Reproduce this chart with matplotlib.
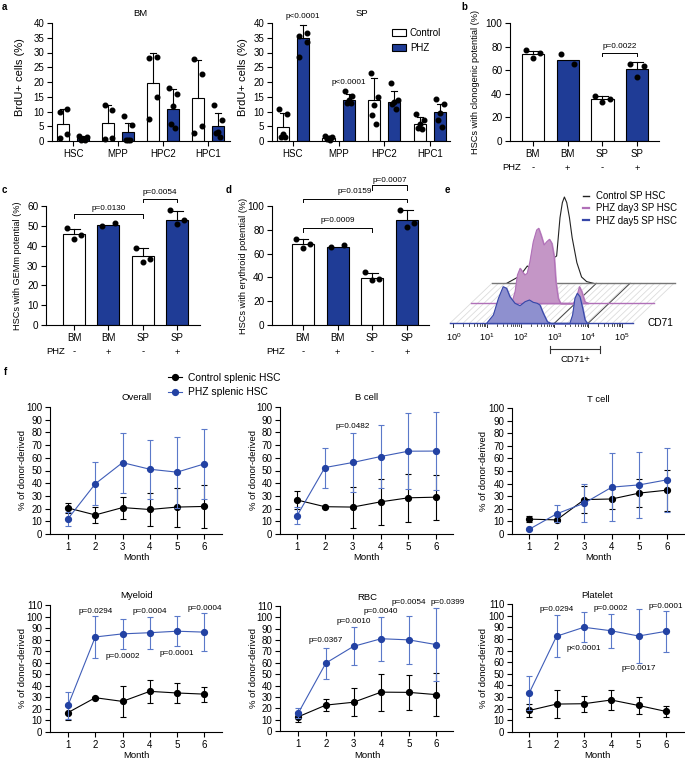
import numpy as np
import matplotlib
matplotlib.use('Agg')
import matplotlib.pyplot as plt
from matplotlib.lines import Line2D
from matplotlib.patches import Patch

plt.rcParams['font.family'] = ['Liberation Sans', 'DejaVu Sans']
plt.rcParams['mathtext.default'] = 'regular'
plt.rcParams['axes.linewidth'] = 0.8

W, H = 685, 763
BLUE_BAR = '#1f3c96'
BLUE_LINE = '#3f5db8'
BLUE_ERR = '#5b79c9'
BLUE_MK = '#2342a3'

# ---- panel a: BrdU+ cells ----
a_groups = ['HSC', 'MPP', 'HPC2', 'HPC1']
bm_ctrl_mean = [5.8, 6.0, 19.6, 14.5]
bm_ctrl_sd = [5.2, 6.2, 10.4, 13.0]
bm_phz_mean = [1.0, 2.9, 11.0, 5.2]
bm_phz_sd = [0.6, 3.3, 6.5, 4.4]
bm_ctrl_pts = [[9.8, 10.8, 2.3, 1.0], [12.2, 10.5, 1.0, 0.8],
               [28.0, 28.5, 15.0, 7.3], [27.8, 22.8, 5.0, 2.8]]
bm_phz_pts = [[1.8, 1.5, 0.7, 0.5, 0.5], [8.5, 5.5, 0.5, 0.5, 0.5],
              [17.8, 16.0, 12.0, 5.6, 4.3], [12.2, 7.0, 3.2, 2.7, 1.5]]

sp_ctrl_mean = [4.8, 1.1, 13.8, 5.9]
sp_ctrl_sd = [4.7, 0.5, 7.5, 2.1]
sp_phz_mean = [34.8, 13.9, 13.2, 9.9]
sp_phz_sd = [4.6, 2.1, 3.8, 2.5]
sp_ctrl_pts = [[10.8, 9.3, 2.5, 1.3, 1.5], [1.8, 1.3, 1.0, 0.8, 0.5],
               [23.2, 15.0, 12.2, 8.8, 5.8], [9.3, 7.0, 5.8, 4.5, 4.1]]
sp_phz_pts = [[35.6, 36.5, 33.7, 28.4], [17.0, 15.2, 13.8, 13.0, 12.8],
              [19.7, 14.0, 13.2, 12.5, 11.0], [14.1, 12.5, 9.5, 7.2, 4.8]]

# ---- panels b, c, d ----
bcd_tissue = ['BM', 'BM', 'SP', 'SP']
bcd_phz = ['-', '+', '-', '+']
b_mean = [73.7, 68.8, 35.4, 60.9]
b_sd = [2.8, 0.0, 2.6, 6.1]
b_pts = [[76.8, 75.0, 70.0], [73.5, 65.5], [38.2, 35.2, 33.0], [65.5, 63.5, 54.5]]
c_mean = [45.8, 50.5, 34.6, 53.0]
c_sd = [2.7, 0.0, 4.0, 4.6]
c_pts = [[48.8, 45.5, 43.5], [50.0, 51.5], [38.8, 33.3, 32.0], [58.2, 53.0, 51.0]]
d_mean = [67.8, 65.9, 39.2, 88.3]
d_sd = [4.2, 0.0, 4.8, 8.2]
d_pts = [[72.0, 68.0, 64.5], [65.7, 67.0], [44.5, 38.5, 37.5], [97.0, 85.5, 82.0]]

# ---- panel e: CD71 histograms (log10 CD71, height) ----
ctrl_hist_x = [0.34, 0.73, 0.95, 1.08, 1.33, 1.62, 1.82, 1.92, 1.99, 2.05, 2.12, 2.20, 2.28, 2.42, 2.56, 2.71, 2.91]
ctrl_hist_y = [0, 7.3, 17.3, 14, 19, 23, 27.3, 65.7, 80.7, 86.3, 80.7, 65.7, 45.7, 20.7, 6.3, 1.7, 0]
d3_hist_x = [1.11, 1.21, 1.28, 1.36, 1.44, 1.50, 1.57, 1.65, 1.75, 1.85, 1.91, 1.98, 2.07, 2.15, 2.23,
             2.30, 2.37, 2.42, 2.49, 2.56, 2.94, 3.04, 3.12, 3.19, 3.28, 3.38]
d3_hist_y = [0, 11.6, 28.3, 35, 31, 28.3, 30, 41.6, 61.6, 73.3, 75, 68.3, 58.3, 61.6, 64,
             60, 46.6, 21.6, 5, 0, 0, 6.6, 16.6, 11.6, 1.6, 0]
d5_hist_x = [0.99, 1.19, 1.34, 1.48, 1.58, 1.68, 1.83, 1.98, 2.13, 2.26, 2.37, 2.49, 2.57, 2.67, 2.79,
             2.89, 3.46, 3.54, 3.61, 3.68, 3.76, 3.84, 3.91, 3.98]
d5_hist_y = [0, 8.3, 25, 36.6, 35, 26.6, 20, 17.6, 21.6, 23.3, 21, 20, 18.3, 10, 1.6,
             0, 0, 8.3, 25, 30, 26.6, 15, 3.3, 0]
cd71_gate = [2.87, 4.35]

# ---- panel f: donor-derived chimerism ----
months = [1, 2, 3, 4, 5, 6]
overall_ctrl = [20.5, 15.0, 20.8, 19.3, 21.2, 21.7]
overall_ctrl_sd = [4.2, 6.5, 8.7, 13.2, 15.3, 17.2]
overall_phz = [12.0, 39.5, 56.2, 51.0, 48.7, 55.2]
overall_phz_sd = [5.7, 16.8, 23.6, 23.2, 28.0, 27.3]
bcell_ctrl = [26.8, 21.5, 21.2, 25.3, 28.5, 29.0]
bcell_ctrl_sd = [6.8, 0.8, 16.2, 18.3, 18.8, 17.6]
bcell_phz = [14.3, 52.3, 56.3, 61.0, 65.2, 65.3]
bcell_phz_sd = [6.6, 15.8, 23.2, 24.6, 29.8, 30.5]
tcell_ctrl = [11.8, 11.2, 27.3, 27.8, 32.5, 34.8]
tcell_ctrl_sd = [2.5, 1.0, 10.5, 7.8, 11.2, 16.3]
tcell_phz = [3.7, 16.0, 24.5, 37.2, 39.0, 43.0]
tcell_phz_sd = [0.5, 6.8, 14.8, 26.7, 26.3, 25.2]
myeloid_ctrl = [16.8, 29.7, 26.5, 35.2, 33.8, 32.8]
myeloid_ctrl_sd = [6.0, 0.8, 13.2, 10.0, 8.3, 6.5]
myeloid_phz = [23.0, 82.3, 85.0, 86.0, 87.3, 86.5]
myeloid_phz_sd = [11.8, 18.0, 13.0, 13.8, 12.8, 16.3]
rbc_ctrl = [12.5, 22.8, 25.3, 34.2, 34.0, 32.0]
rbc_ctrl_sd = [4.3, 5.2, 12.2, 16.3, 15.7, 18.8]
rbc_phz = [15.7, 59.8, 74.5, 81.2, 80.2, 76.0]
rbc_phz_sd = [4.5, 13.6, 16.8, 19.5, 20.8, 32.0]
platelet_ctrl = [18.5, 24.0, 24.3, 27.5, 22.8, 17.7]
platelet_ctrl_sd = [5.5, 12.0, 7.0, 8.7, 7.5, 4.5]
platelet_phz = [33.5, 82.3, 90.0, 87.0, 82.5, 86.5]
platelet_phz_sd = [14.5, 18.0, 12.8, 14.6, 23.0, 17.8]
bcell_p = [(3, 85, 'p=0.0482')]
myeloid_p = [(2, 104.8, 'p=0.0294'), (3, 65, 'p=0.0002'), (4, 104.8, 'p=0.0004'),
             (5, 68, 'p=0.0001'), (6, 107, 'p=0.0004')]
rbc_p = [(2, 80, 'p=0.0367'), (3, 96.5, 'p=0.0010'), (4, 105.5, 'p=0.0040'),
         (5, 113.5, 'p=0.0054'), (6.42, 113.5, 'p=0.0399')]
platelet_p = [(2, 105.6, 'p=0.0294'), (3, 72, 'p<0.0001'), (4, 106.5, 'p=0.0002'),
              (5, 54.5, 'p=0.0017'), (6, 108, 'p=0.0001')]

fig = plt.figure(figsize=(W / 100, H / 100), dpi=100)


def px_ax(x0, y0, x1, y1):
    return fig.add_axes([x0 / W, 1 - y1 / H, (x1 - x0) / W, (y1 - y0) / H])


def ftext(px, py, s, **kw):
    fig.text(px / W, 1 - py / H, s, **kw)


def style(ax, size=7):
    for s in ['top', 'right']:
        ax.spines[s].set_visible(False)
    ax.tick_params(length=3.5, width=0.8, labelsize=size, pad=2)


def jitter(n, w):
    pats = {2: [-0.3, 0.3], 3: [-0.32, 0.32, 0.0], 4: [-0.3, 0.3, 0.3, -0.3],
            5: [-0.3, 0.3, 0.0, -0.15, 0.15]}
    return np.array(pats[n]) * w


def bars(ax, xs, means, sds, pts, color, w):
    ax.bar(xs, means, width=w, color=color, edgecolor='black', linewidth=0.8, zorder=2)
    for x, m, s, p in zip(xs, means, sds, pts):
        if s > 0:
            ax.plot([x, x], [m, m + s], color='black', lw=0.8, zorder=3, clip_on=False)
            ax.plot([x - w * 0.25, x + w * 0.25], [m + s, m + s], color='black', lw=0.8, zorder=3, clip_on=False)
        ax.plot(x + jitter(len(p), w), p, 'o', color='black', ms=3.3, zorder=4, clip_on=False)


def bracket(ax, x0, x1, y, leg, txt, ty):
    ax.plot([x0, x0, x1, x1], [y - leg, y, y, y - leg], color='black', lw=0.7, clip_on=False)
    ax.text((x0 + x1) / 2, ty, txt, ha='center', va='center', fontsize=5.9)


# ---- a ----
for (x0, x1, xl, title, cm, cs, cp, pm, ps, pp) in [
        (52, 230, (-0.47, 3.49), 'BM', bm_ctrl_mean, bm_ctrl_sd, bm_ctrl_pts, bm_phz_mean, bm_phz_sd, bm_phz_pts),
        (272, 450, (-0.46, 3.44), 'SP', sp_ctrl_mean, sp_ctrl_sd, sp_ctrl_pts, sp_phz_mean, sp_phz_sd, sp_phz_pts)]:
    ax = px_ax(x0, 23, x1, 141)
    style(ax)
    ax.set_xlim(*xl)
    ax.set_ylim(0, 40)
    ax.set_yticks(range(0, 41, 5))
    xs = np.arange(len(a_groups))
    bars(ax, xs - 0.22, cm, cs, cp, 'white', 0.27)
    bars(ax, xs + 0.22, pm, ps, pp, BLUE_BAR, 0.27)
    ax.set_xticks(xs)
    ax.set_xticklabels(a_groups, fontsize=7)
    ax.text(1.5, 40 + 9 / 2.95, title, ha='center', va='center', fontsize=6.8)
    if title == 'SP':
        ax.text(0.22, 42.1, 'p<0.0001', ha='center', va='center', fontsize=5.9)
        ax.text(1.22, 19.8, 'p<0.0001', ha='center', va='center', fontsize=5.9)
ftext(20, 77, 'BrdU+ cells (%)', rotation=90, ha='center', va='center', fontsize=8)
ftext(243, 77, 'BrdU+ cells (%)', rotation=90, ha='center', va='center', fontsize=8)
fig.legend([Patch(facecolor='white', edgecolor='black', lw=0.8), Patch(facecolor=BLUE_BAR, edgecolor='black', lw=0.8)],
           ['Control', 'PHZ'], loc='upper left', bbox_to_anchor=(392 / W, 1 - 28 / H), frameon=False,
           fontsize=7, handlelength=1.4, handleheight=0.75, handletextpad=0.45, labelspacing=0.5,
           borderpad=0, borderaxespad=0)

# ---- b, c, d ----
for (x0, y0, x1, y1, xl, ymax, step, mean, sd, pts, ylabel, lx, phzx) in [
        (510, 23, 659, 141, (-0.66, 3.63), 100, 20, b_mean, b_sd, b_pts, 'HSCs with clonogenic potential (%)', 476, 512),
        (46, 206, 200, 325, (-0.82, 3.67), 60, 10, c_mean, c_sd, c_pts, 'HSCs with GEMm potential (%)', 18, 56),
        (272, 206, 429, 325, (-0.89, 3.63), 100, 20, d_mean, d_sd, d_pts, 'HSCs with erythroid potential (%)', 244, 276)]:
    ax = px_ax(x0, y0, x1, y1)
    style(ax, 7.2)
    ax.set_xlim(*xl)
    ax.set_ylim(0, ymax)
    ax.set_yticks(range(0, ymax + 1, step))
    xs = np.arange(4)
    bars(ax, xs[0::2], mean[0::2], sd[0::2], pts[0::2], 'white', 0.64)
    bars(ax, xs[1::2], mean[1::2], sd[1::2], pts[1::2], BLUE_BAR, 0.64)
    ax.set_xticks(xs)
    ax.set_xticklabels(bcd_tissue, fontsize=7)
    yfrac = -(27.0) / (y1 - y0)
    for x, s in zip(xs, bcd_phz):
        ax.text(x, yfrac, s, transform=ax.get_xaxis_transform(), ha='center', va='center', fontsize=6.8)
    ftext(phzx, y1 + 27, 'PHZ', ha='center', va='center', fontsize=6.8)
    ftext(lx, (y0 + y1) / 2, ylabel, rotation=90, ha='center', va='center', fontsize=6.6)
    if ymax == 60:
        bracket(ax, 0, 2, 55.8, 2.0, 'p=0.0130', 58.8)
        bracket(ax, 2, 3, 63.5, 1.6, 'p=0.0054', 66.9)
    elif x0 == 510:
        bracket(ax, 2, 3, 74.8, 2.8, 'p=0.0022', 80)
    else:
        bracket(ax, 0, 2, 81.2, 2.8, 'p=0.0009', 87.4)
        bracket(ax, 0, 3, 105.9, 2.9, 'p=0.0159', 112)
        bracket(ax, 2, 3, 117.6, 4.2, 'p=0.0007', 121.5)

# ---- e ----
ax = px_ax(440, 185, 685, 345)
ax.set_xlim(440, 685)
ax.set_ylim(345, 185)
ax.axis('off')
X0, DEC, BASE, DX, DY = 453.3, 33.7, 323.3, 21, 20
lo, hi = -0.1, 5.33
# floor hatching
for xf in np.arange(X0 + lo * DEC, X0 + hi * DEC, 6.5):
    ax.plot([xf, xf + 2 * DX], [BASE, BASE - 2 * DY], color='#dcdcdc', lw=0.6, zorder=0)
for lg in [3, 4]:
    xf = X0 + lg * DEC
    ax.plot([xf, xf + 2 * DX], [BASE, BASE - 2 * DY], color='#444444', lw=0.7, zorder=0.5)
layers = [(2, ctrl_hist_x, ctrl_hist_y, 'white', '#222222', '#777777'),
          (1, d3_hist_x, d3_hist_y, '#c496c6', '#b070b8', '#b070b8'),
          (0, d5_hist_x, d5_hist_y, '#8e90cf', '#3646a8', '#3646a8')]
for k, hx, hy, fc, ec, bc in layers:
    xs = X0 + np.array(hx) * DEC + k * DX
    ys = BASE - k * DY - np.array(hy)
    b = BASE - k * DY
    ax.fill_between(xs, ys, b, color=fc, zorder=2 + (2 - k) * 2)
    ax.plot(xs, ys, color=ec, lw=0.8, zorder=3 + (2 - k) * 2)
    ax.plot([X0 + lo * DEC + k * DX, X0 + hi * DEC + k * DX], [b, b], color=bc, lw=1.0, zorder=3 + (2 - k) * 2)
# front axis ticks
for dec in range(0, 6):
    ax.plot([X0 + dec * DEC] * 2, [BASE, BASE + 4], color='#333333', lw=0.7)
    ax.text(X0 + dec * DEC, BASE + 14, '10$^{%d}$' % dec, ha='center', va='center', fontsize=6.5)
    if dec < 5:
        for m in range(2, 10):
            xm = X0 + (dec + np.log10(m)) * DEC
            ax.plot([xm, xm], [BASE, BASE + 2.5], color='#333333', lw=0.6)
ax.text(647, BASE, 'CD71', ha='left', va='center', fontsize=7.3)
g0, g1 = X0 + cd71_gate[0] * DEC, X0 + cd71_gate[1] * DEC
ax.plot([g0, g1], [349, 349], color='#333333', lw=0.8, clip_on=False)
ax.plot([g0, g0], [345.5, 352.5], color='#333333', lw=0.8, clip_on=False)
ax.plot([g1, g1], [345.5, 352.5], color='#333333', lw=0.8, clip_on=False)
fig.text(((g0 + g1) / 2) / W, 1 - 359 / H, 'CD71+', ha='center', va='center', fontsize=6.8)
fig.legend([Line2D([], [], color='#222222', lw=1.0), Line2D([], [], color='#b070b8', lw=1.6),
            Line2D([], [], color='#3646a8', lw=1.6)],
           ['Control SP HSC', 'PHZ day3 SP HSC', 'PHZ day5 SP HSC'], loc='upper left',
           bbox_to_anchor=(583 / W, 1 - 191 / H), frameon=False, fontsize=6.9, handlelength=0.6,
           handletextpad=0.8, labelspacing=0.25, borderpad=0, borderaxespad=0)

# ---- f ----
fig.legend([Line2D([], [], color='black', marker='o', ms=4.2, lw=0.8),
            Line2D([], [], color=BLUE_LINE, marker='o', ms=4.2, mfc=BLUE_MK, mec=BLUE_MK, lw=0.8)],
           ['Control splenic HSC', 'PHZ splenic HSC'], loc='upper left',
           bbox_to_anchor=(168 / W, 1 - 373 / H), frameon=False, fontsize=7.4, handlelength=1.4,
           handletextpad=0.5, labelspacing=0.4, borderpad=0, borderaxespad=0)

f_panels = [
    (50, 407, 222, 534, (0.34, 6.65), 100, 'Overall', overall_ctrl, overall_ctrl_sd, overall_phz, overall_phz_sd, [], 23),
    (280, 407, 453, 534, (0.39, 6.6), 100, 'B cell', bcell_ctrl, bcell_ctrl_sd, bcell_phz, bcell_phz_sd, bcell_p, 253),
    (512, 408, 685, 534, (0.38, 6.65), 100, 'T cell', tcell_ctrl, tcell_ctrl_sd, tcell_phz, tcell_phz_sd, [], 483),
    (50, 605, 222, 732, (0.34, 6.65), 110, 'Myeloid', myeloid_ctrl, myeloid_ctrl_sd, myeloid_phz, myeloid_phz_sd, myeloid_p, 23),
    (280, 606, 453, 731, (0.34, 6.6), 110, 'RBC', rbc_ctrl, rbc_ctrl_sd, rbc_phz, rbc_phz_sd, rbc_p, 253),
    (512, 604, 685, 732, (0.37, 6.7), 110, 'Platelet', platelet_ctrl, platelet_ctrl_sd, platelet_phz, platelet_phz_sd, platelet_p, 483),
]
for (x0, y0, x1, y1, xl, ymax, title, cm, cs, pm, ps, pv, lx) in f_panels:
    ax = px_ax(x0, y0, x1, y1)
    style(ax, 7)
    ax.set_xlim(*xl)
    ax.set_ylim(0, ymax)
    ax.set_yticks(range(0, ymax + 1, 10))
    ax.set_xticks(months)
    ax.errorbar(months, cm, yerr=cs, color='black', marker='o', ms=4.2, lw=0.8,
                elinewidth=0.8, capsize=2.2, capthick=0.8, clip_on=False, zorder=3)
    ax.errorbar(months, pm, yerr=ps, color=BLUE_LINE, ecolor=BLUE_ERR, marker='o', ms=4.2,
                mfc=BLUE_MK, mec=BLUE_MK, lw=0.8, elinewidth=0.8, capsize=2.2, capthick=0.8,
                clip_on=False, zorder=4)
    h = y1 - y0
    ax.text(3.5, 1 + 9 / h, title, transform=ax.get_xaxis_transform(), ha='center', va='center', fontsize=6.8)
    ax.text(3.5, -24 / h, 'Month', transform=ax.get_xaxis_transform(), ha='center', va='center', fontsize=6.8)
    for m, y, t in pv:
        ax.text(m, y, t, ha='center', va='center', fontsize=5.9)
    ftext(lx, (y0 + y1) / 2, '% of donor-derived', rotation=90, ha='center', va='center', fontsize=6.8)

for lab, px, py in [('a', 4, 7), ('b', 464, 7), ('c', 4, 190), ('d', 229, 190), ('e', 447, 190), ('f', 5, 372)]:
    ftext(px, py, lab, fontsize=7, fontweight='bold', ha='center', va='center')

fig.savefig('out.png', dpi=100)
